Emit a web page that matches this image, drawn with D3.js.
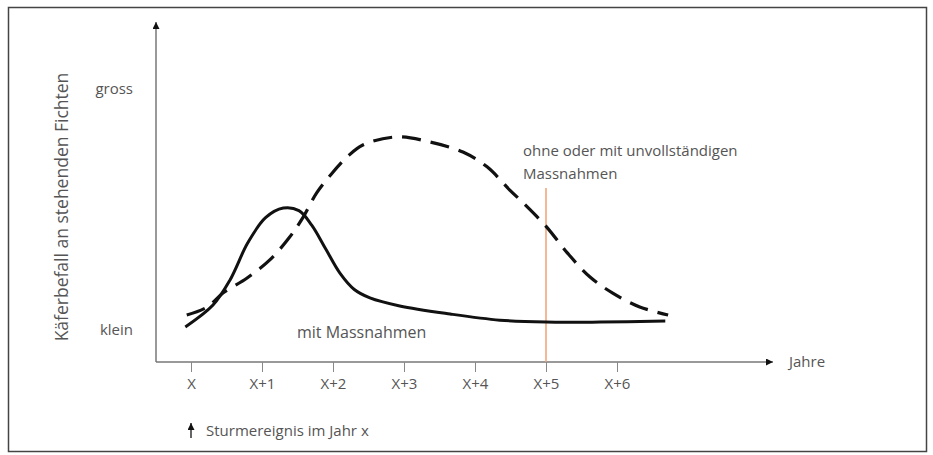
<!DOCTYPE html>
<html>
<head>
<meta charset="utf-8">
<script src="https://cdn.jsdelivr.net/npm/d3@7"></script>
<style>
  body { margin: 0; background: #fff; }
  svg text { font-family: "Open Sans", sans-serif; fill: #555; }
</style>
</head>
<body>
<div id="chart"></div>
<script>
// years after the storm (0 = X)
var tickYears = [0, 1, 2, 3, 4, 5, 6];
var tickLabels = ["X", "X+1", "X+2", "X+3", "X+4", "X+5", "X+6"];
var levelValues = [10, 85];
var levelLabels = ["klein", "gross"];

// mit Massnahmen
var withYears  = [-0.08, 0.31, 0.55, 0.80, 1.05, 1.30, 1.52, 1.70, 1.90, 2.10, 2.30, 2.52, 2.94, 3.65, 4.35, 5.00, 5.76, 6.68];
var withValues = [10.9, 17.7, 25.5, 37.0, 44.8, 47.8, 47.0, 42.5, 35.0, 27.5, 22.5, 19.9, 17.4, 14.9, 13.0, 12.4, 12.4, 12.7];

// ohne oder mit unvollständigen Massnahmen
var withoutYears  = [-0.06, 0.23, 0.45, 0.79, 1.11, 1.39, 1.58, 1.77, 1.99, 2.20, 2.42, 2.90, 3.37, 3.83, 4.17, 4.49, 4.68, 5.01, 5.30, 5.62, 5.94, 6.32, 6.72];
var withoutValues = [14.6, 17.1, 21.4, 26.1, 31.7, 38.8, 45.0, 52.5, 58.7, 63.7, 67.4, 69.9, 68.3, 65.2, 60.6, 53.4, 49.4, 41.9, 33.9, 26.4, 21.4, 17.1, 14.6];

var markerYear = 5;

var width = 933, height = 455;
var x0 = 156, yAxisTop = 22, xAxisEnd = 773;

var x = d3.scaleLinear().domain([0, 6]).range([191, 617]);
var y = d3.scaleLinear().domain([0, 100]).range([362, 40]);

var svg = d3.select("#chart").append("svg")
    .attr("width", width)
    .attr("height", height);

var defs = svg.append("defs");
defs.append("marker")
    .attr("id", "arrow")
    .attr("viewBox", "0 0 10 10")
    .attr("refX", 10).attr("refY", 5)
    .attr("markerWidth", 11).attr("markerHeight", 7)
    .attr("markerUnits", "userSpaceOnUse")
    .attr("orient", "auto")
    .append("path")
    .attr("d", "M0,0L10,5L0,10z")
    .attr("fill", "#111");

// frame
svg.append("rect")
    .attr("x", 8.5).attr("y", 7.5)
    .attr("width", 918).attr("height", 444)
    .attr("fill", "none")
    .attr("stroke", "#444")
    .attr("stroke-width", 1.5);

// axes lines with arrows
svg.append("line")
    .attr("x1", x0).attr("y1", y(0))
    .attr("x2", x0).attr("y2", yAxisTop)
    .attr("stroke", "#777").attr("stroke-width", 1.5)
    .attr("marker-end", "url(#arrow)");

svg.append("line")
    .attr("x1", x0).attr("y1", y(0))
    .attr("x2", xAxisEnd).attr("y2", y(0))
    .attr("stroke", "#777").attr("stroke-width", 1.5)
    .attr("marker-end", "url(#arrow)");

var xAxis = d3.axisBottom(x)
    .tickValues(tickYears)
    .tickFormat(function (d, i) { return tickLabels[i]; })
    .tickSize(10)
    .tickPadding(6);

var gx = svg.append("g")
    .attr("transform", "translate(0," + y(0) + ")")
    .call(xAxis);
gx.select(".domain").remove();
gx.selectAll(".tick line").attr("stroke", "#888");
gx.selectAll(".tick text").attr("font-size", 15).style("font-family", null);

var yAxis = d3.axisLeft(y)
    .tickValues(levelValues)
    .tickFormat(function (d, i) { return levelLabels[i]; })
    .tickSize(0)
    .tickPadding(23);

var gy = svg.append("g")
    .attr("transform", "translate(" + x0 + ",0)")
    .call(yAxis);
gy.select(".domain").remove();
gy.selectAll(".tick text").attr("font-size", 15).style("font-family", null);

svg.append("text")
    .attr("transform", "translate(62," + 207 + ") rotate(-90)")
    .attr("text-anchor", "middle")
    .attr("dy", "0.35em")
    .attr("font-size", 17.5)
    .text("Käferbefall an stehenden Fichten");

svg.append("text")
    .attr("x", 789).attr("y", y(0))
    .attr("dy", "0.35em")
    .attr("font-size", 15)
    .text("Jahre");

// orange marker line at X+5
svg.append("line")
    .attr("x1", x(markerYear)).attr("y1", 188)
    .attr("x2", x(markerYear)).attr("y2", y(0))
    .attr("stroke", "#f0a070")
    .attr("stroke-width", 1.5);

var line = d3.line()
    .x(function (d) { return x(d[0]); })
    .y(function (d) { return y(d[1]); })
    .curve(d3.curveCatmullRom.alpha(0.5));

svg.append("path")
    .datum(d3.zip(withoutYears, withoutValues))
    .attr("fill", "none")
    .attr("stroke", "#111")
    .attr("stroke-width", 3.2)
    .attr("stroke-dasharray", "19,10")
    .attr("d", line);

svg.append("path")
    .datum(d3.zip(withYears, withValues))
    .attr("fill", "none")
    .attr("stroke", "#111")
    .attr("stroke-width", 3)
    .attr("d", line);

svg.append("text")
    .attr("x", 297).attr("y", 332)
    .attr("dy", "0.35em")
    .attr("font-size", 16)
    .text("mit Massnahmen");

svg.append("text")
    .attr("x", 523).attr("y", 151)
    .attr("dy", "0.35em")
    .attr("font-size", 15)
    .text("ohne oder mit unvollständigen");
svg.append("text")
    .attr("x", 523).attr("y", 174)
    .attr("dy", "0.35em")
    .attr("font-size", 15)
    .text("Massnahmen");

// storm event note
svg.append("line")
    .attr("x1", x(0)).attr("y1", 438)
    .attr("x2", x(0)).attr("y2", 423)
    .attr("stroke", "#333").attr("stroke-width", 1.5)
    .attr("marker-end", "url(#arrow)");

svg.append("text")
    .attr("x", 206).attr("y", 431)
    .attr("dy", "0.35em")
    .attr("font-size", 15)
    .text("Sturmereignis im Jahr x");
</script>
</body>
</html>
